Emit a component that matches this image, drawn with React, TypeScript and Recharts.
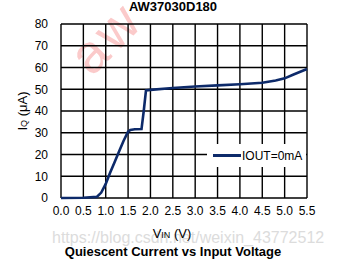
import { LineChart, Line, XAxis, YAxis, CartesianGrid, Legend, Label } from "recharts"

// IQ vs VIN (IOUT = 0 mA)
const vin = [0, 0.5, 0.8, 0.9, 1.0, 1.1, 1.2, 1.3, 1.4, 1.5, 1.55, 1.65, 1.8, 1.85, 1.9, 2.0, 2.5, 3.0, 3.5, 4.0, 4.5, 4.8, 5.0, 5.2, 5.5]
const iq = [0, 0.1, 0.5, 2.5, 6.5, 11.7, 16.6, 21.5, 26.3, 30.5, 31.3, 31.6, 31.7, 40, 49.5, 49.7, 50.6, 51.3, 51.8, 52.3, 53, 54, 55, 56.8, 59.3]

const xTicks = [0, 0.5, 1, 1.5, 2, 2.5, 3, 3.5, 4, 4.5, 5, 5.5]
const yTicks = [0, 10, 20, 30, 40, 50, 60, 70, 80]

const seriesName = "IOUT=0mA"
const lineColor = "#0d2a6a"
const font = "'Liberation Sans', Arial, sans-serif"

const data = vin.map((v, i) => ({ vin: v, iq: iq[i] }))

function LegendBox() {
  return (
    <div
      style={{
        background: "#fff",
        display: "flex",
        alignItems: "center",
        height: 23,
        padding: "0 4px 0 6px",
        fontFamily: font,
        fontSize: 12,
        color: "#000",
      }}
    >
      <span style={{ display: "inline-block", width: 28, height: 3, background: lineColor, marginRight: 1 }} />
      {seriesName}
    </div>
  )
}

export default function App() {
  return (
    <div style={{ position: "fixed", left: 0, top: 0, width: 362, height: 265, background: "#fff", overflow: "hidden" }}>
      <div
        style={{
          position: "absolute",
          left: 52,
          top: 229,
          fontFamily: font,
          fontSize: 16,
          color: "#dcdcdc",
          whiteSpace: "nowrap",
        }}
      >
        https://blog.csdn.net/weixin_43772512
      </div>
      <div
        style={{
          position: "absolute",
          left: 100,
          top: 24,
          fontFamily: font,
          fontSize: 54,
          lineHeight: "62px",
          letterSpacing: 4,
          color: "#fbcaca",
          transform: "rotate(-45deg)",
          transformOrigin: "left bottom",
          whiteSpace: "nowrap",
        }}
      >
        aw
      </div>
      <div
        style={{
          position: "absolute",
          left: 0,
          width: 346,
          top: -1,
          textAlign: "center",
          fontFamily: font,
          fontWeight: "bold",
          fontSize: 13,
          color: "#000",
        }}
      >
        AW37030D180
      </div>
      <LineChart
        width={362}
        height={265}
        data={data}
        margin={{ top: 24, right: 55, bottom: 37, left: 0 }}
        style={{ position: "absolute", left: 0, top: 0 }}
      >
        <CartesianGrid stroke="#000" strokeWidth={1.4} horizontalValues={yTicks} verticalValues={xTicks} />
        <XAxis
          dataKey="vin"
          type="number"
          domain={[0, 5.5]}
          ticks={xTicks}
          tickFormatter={(v: number) => v.toFixed(1)}
          height={30}
          axisLine={false}
          tickLine={false}
          tick={{ fill: "#000", fontSize: 12, fontFamily: font }}
          interval={0}
        >
          <Label
            content={() => (
              <text x={172} y={238} textAnchor="middle" fontFamily={font} fontSize={13} fill="#000">
                V<tspan fontSize={9}>IN</tspan> (V)
              </text>
            )}
          />
        </XAxis>
        <YAxis
          type="number"
          domain={[0, 80]}
          ticks={yTicks}
          width={61}
          axisLine={false}
          tickLine={false}
          tickSize={6}
          tickMargin={7}
          tick={{ fill: "#000", fontSize: 12, fontFamily: font }}
          interval={0}
        >
          <Label
            content={() => (
              <text
                x={27}
                y={111}
                textAnchor="middle"
                transform="rotate(-90 27 111)"
                fontFamily={font}
                fontSize={13}
                fill="#000"
              >
                I<tspan fontSize={9}>Q</tspan> (μA)
              </text>
            )}
          />
        </YAxis>
        <Legend
          verticalAlign="middle"
          align="center"
          wrapperStyle={{ left: 207, top: 144, width: "auto" }}
          content={() => <LegendBox />}
        />
        <Line
          type="linear"
          dataKey="iq"
          name={seriesName}
          stroke={lineColor}
          strokeWidth={2.6}
          dot={false}
          isAnimationActive={false}
        />
      </LineChart>
      <div
        style={{
          position: "absolute",
          left: 0,
          width: 346,
          top: 244,
          textAlign: "center",
          fontFamily: font,
          fontWeight: "bold",
          fontSize: 13,
          color: "#000",
        }}
      >
        Quiescent Current vs Input Voltage
      </div>
    </div>
  )
}
